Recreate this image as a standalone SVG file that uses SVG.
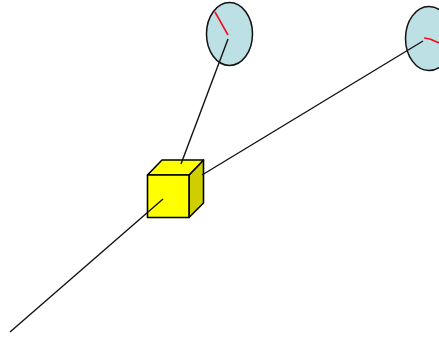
<svg xmlns="http://www.w3.org/2000/svg" width="439" height="339" viewBox="0 0 439 339">
<style>
.o{stroke:#000;stroke-width:1.6;stroke-linejoin:round}
.e{fill:#bde0e4;stroke:#111;stroke-width:1.5}
.r{stroke:#f01020;stroke-width:1.6;fill:none}
.c{stroke:#111;stroke-width:1.4;fill:none}
</style>
<rect width="439" height="339" fill="#fff"/>
<g id="node-disc-1"><ellipse class="e" cx="229.5" cy="34" rx="23" ry="31.5"/><line class="r" x1="215" y1="12" x2="228" y2="35"/></g>
<g id="node-disc-2"><ellipse class="e" cx="429" cy="38.5" rx="23.5" ry="32"/><polyline class="r" points="424,38 430,39 439,43"/></g>
<g id="node-cube">
<polygon class="o" points="189,175 203.5,160 203.5,203 189,217.5" fill="#cfcf00"/>
<polygon class="o" points="147.5,175 162,160 203.5,160 189,175" fill="#ffff00"/>
<rect class="o" x="147.5" y="175" width="41.5" height="42.5" fill="#ffff00"/>
</g>
<g id="connectors">
<line class="c" x1="228" y1="39" x2="181" y2="164"/>
<line class="c" x1="423" y1="41" x2="202" y2="175"/>
<line class="c" x1="163" y1="199" x2="10" y2="332"/>
</g>
</svg>
